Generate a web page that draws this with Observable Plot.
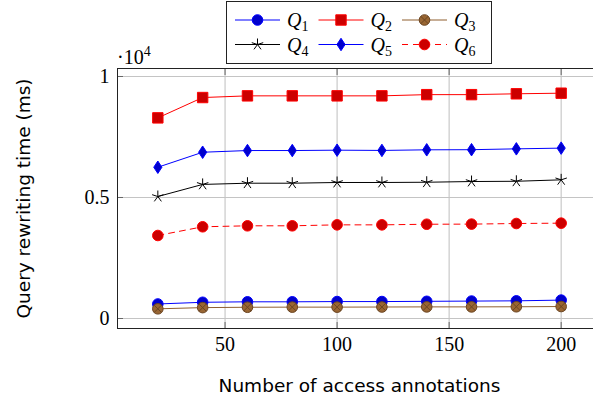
<!DOCTYPE html>
<html><head><meta charset="utf-8">
<script src="https://cdn.jsdelivr.net/npm/d3@7"></script>
<script src="https://cdn.jsdelivr.net/npm/@observablehq/plot@0.6"></script>
<style>
html,body{margin:0;padding:0;overflow:hidden;background:white;width:593px;height:403px}
#wrap{position:relative;width:593px;height:403px;overflow:hidden;background:white}
#chart svg{display:block;max-width:none !important;width:601px;height:403px}
#chart svg g[aria-label$="tick label"] text{font-family:"Liberation Serif","DejaVu Serif",serif !important;font-size:20px}
#legend{position:absolute;left:226px;top:1px}
#legend text{font-family:"Liberation Serif","DejaVu Serif",serif}
#mult{position:absolute;left:117px;top:47px;font-family:"Liberation Serif","DejaVu Serif",serif;font-size:20px;line-height:20px;white-space:nowrap}
#mult span{font-size:14px;position:relative;top:-8px}
</style></head><body>
<div id="wrap"><div id="chart"></div><div id="mult">·10<span>4</span></div><div id="legend"></div></div>
<script>
// ---- data ----
const annotations = [20, 40, 60, 80, 100, 120, 140, 160, 180, 200];
const seriesNames = ["Q1", "Q2", "Q3", "Q4", "Q5", "Q6"];
const q1 = [600, 670, 690, 690, 700, 700, 710, 720, 730, 760];
const q2 = [8290, 9130, 9200, 9200, 9200, 9200, 9250, 9250, 9285, 9310];
const q3 = [400, 450, 465, 470, 470, 475, 480, 480, 485, 495];
const q4 = [5040, 5540, 5590, 5590, 5620, 5620, 5630, 5660, 5670, 5730];
const q5 = [6250, 6870, 6940, 6940, 6955, 6945, 6970, 6975, 7010, 7040];
const q6 = [3430, 3790, 3830, 3830, 3870, 3870, 3895, 3900, 3925, 3940];
const xTicks = [50, 100, 150, 200];
const yTicks = [0, 5000, 10000];
const yTickLabels = ["0", "0.5", "1"];
const seriesValues = [q1, q2, q3, q4, q5, q6];

// ---- custom pgfplots-like marks ----
const R = s => Math.sqrt(s / Math.PI);
const symbols = {
  circle: {draw(c, s) { const r = R(s); c.moveTo(r, 0); c.arc(0, 0, r, 0, 2 * Math.PI); c.closePath(); }},
  square: {draw(c, s) { const r = R(s); c.rect(-r, -r, 2 * r, 2 * r); }},
  diamond: {draw(c, s) { const r = R(s); c.moveTo(0, -r * 1.3); c.lineTo(r * 0.85, 0); c.lineTo(0, r * 1.3); c.lineTo(-r * 0.85, 0); c.closePath(); }},
  otimes: {draw(c, s) { const r = R(s); c.moveTo(r, 0); c.arc(0, 0, r, 0, 2 * Math.PI); c.closePath();
    const k = r * 0.7071; c.moveTo(-k, -k); c.lineTo(k, k); c.moveTo(-k, k); c.lineTo(k, -k); }},
  star: {draw(c, s) { const r = R(s); for (let i = 0; i < 5; i++) { const a = -Math.PI / 2 + i * 2 * Math.PI / 5; c.moveTo(0, 0); c.lineTo(r * Math.cos(a), r * Math.sin(a)); } }}
};
const styles = [
  {line: "#0000ff", fill: "#0000cc", stroke: "#0000ff", sym: "circle", r: 5.3, dash: null},
  {line: "#ff0000", fill: "#cc0000", stroke: "#ff0000", sym: "square", r: 5.2, dash: null},
  {line: "#8f5f2f", fill: "#996633", stroke: "#6b4522", sym: "otimes", r: 5.3, dash: null},
  {line: "#000000", fill: "none", stroke: "#000000", sym: "star", r: 6, dash: null},
  {line: "#0000ff", fill: "#0000cc", stroke: "#0000ff", sym: "diamond", r: 4.8, dash: null},
  {line: "#ff0000", fill: "#cc0000", stroke: "#ff0000", sym: "circle", r: 5.3, dash: "6,5"}
];

const table = seriesNames.map((name, i) => annotations.map((x, j) => ({x, y: seriesValues[i][j], s: name})));

const serif = "Liberation Serif, DejaVu Serif, serif";
const marks = [
  Plot.gridX({ticks: xTicks, stroke: "#c4c4c4", strokeOpacity: 1, strokeWidth: 1.1}),
  Plot.gridY({ticks: yTicks, stroke: "#c4c4c4", strokeOpacity: 1, strokeWidth: 1.1}),
  Plot.axisX({ticks: xTicks, anchor: "bottom", tickSize: -6, tickPadding: 14, label: null, stroke: "#666", fill: "black", fontFamily: serif, fontSize: 20, tickFormat: d => String(d)}),
  Plot.axisX({ticks: xTicks, anchor: "top", tickSize: -6, label: null, stroke: "#666", tickFormat: () => ""}),
  Plot.axisY({ticks: yTicks, anchor: "left", tickSize: -6, tickPadding: 14, label: null, stroke: "#666", fill: "black", fontFamily: serif, fontSize: 20, tickFormat: d => yTickLabels[yTicks.indexOf(d)]}),
  Plot.axisY({ticks: yTicks, anchor: "right", tickSize: -6, label: null, stroke: "#666", tickFormat: () => ""}),
  Plot.frame({stroke: "#222", strokeWidth: 1})
];
table.forEach((rows, i) => {
  const st = styles[i];
  marks.push(Plot.line(rows, {x: "x", y: "y", stroke: st.line, strokeWidth: 1, strokeDasharray: st.dash}));
  marks.push(Plot.dot(rows, {x: "x", y: "y", symbol: symbols[st.sym], r: st.r, fill: st.fill, stroke: st.stroke, strokeWidth: 1}));
});
marks.push(Plot.text(["Number of access annotations"], {frameAnchor: "bottom", dy: 58, textAnchor: "middle", lineAnchor: "middle", fontFamily: "DejaVu Sans", fontSize: 18.5, fill: "black"}));
marks.push(Plot.text(["Query rewriting time (ms)"], {frameAnchor: "left", dx: -93, rotate: -90, textAnchor: "middle", lineAnchor: "middle", fontFamily: "DejaVu Sans", fontSize: 18.5, fill: "black"}));

const chart = Plot.plot({
  width: 601, height: 403,
  marginLeft: 117, marginRight: 0, marginTop: 68, marginBottom: 75,
  x: {domain: [2, 218]},
  y: {domain: [-413, 10330]},
  style: {fontFamily: serif, fontSize: "20px", background: "white", color: "black", maxWidth: "none"},
  marks
});
document.getElementById("chart").appendChild(chart);

// ---- legend ----
const ns = "http://www.w3.org/2000/svg";
const lg = document.createElementNS(ns, "svg");
lg.setAttribute("width", 267); lg.setAttribute("height", 64);
let html = `<rect x="0.5" y="0.5" width="265" height="62" fill="white" stroke="#222" stroke-width="1"/>`;
seriesNames.forEach((name, i) => {
  const st = styles[i];
  const col = i % 3, row = Math.floor(i / 3);
  const x0 = 9 + col * 83.5, cy = 19 + row * 24.5;
  const p = d3.path(); symbols[st.sym].draw(p, Math.PI * st.r * st.r);
  html += `<line x1="${x0}" x2="${x0 + 45}" y1="${cy}" y2="${cy}" stroke="${st.line}" stroke-width="1" ${st.dash ? `stroke-dasharray="${st.dash}"` : ""}/>`;
  html += `<path transform="translate(${x0 + 22.5},${cy})" d="${p}" fill="${st.fill}" stroke="${st.stroke}" stroke-width="1"/>`;
  html += `<text x="${x0 + 52}" y="${cy + 7}" font-style="italic" font-size="20">${name[0]}<tspan font-style="normal" font-size="14" dy="4">${name.slice(1)}</tspan></text>`;
});
lg.innerHTML = html;
document.getElementById("legend").appendChild(lg);
</script>
</body></html>
